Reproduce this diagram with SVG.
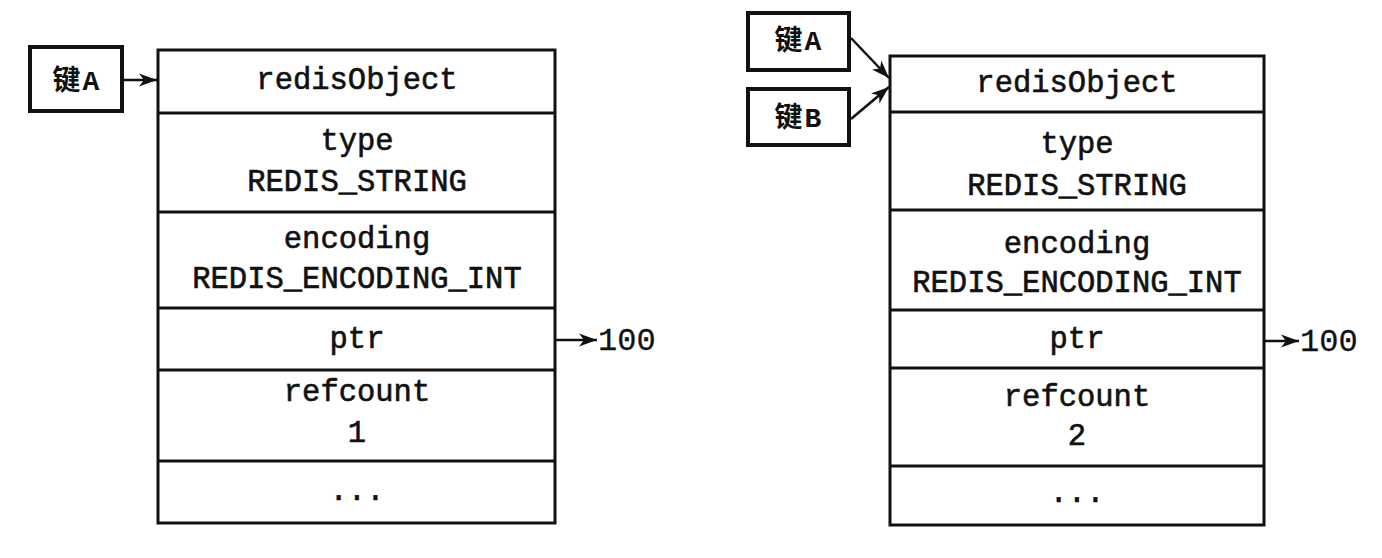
<svg xmlns="http://www.w3.org/2000/svg" width="1382" height="558" viewBox="0 0 1382 558">
<style>
.box{fill:#fff;stroke:#111;stroke-width:3}
.kbox{fill:#fff;stroke:#111;stroke-width:4}
.div{stroke:#111;stroke-width:3}
.t{font-family:"Liberation Mono","Courier New",monospace;font-size:30.5px;fill:#111;stroke:#111;stroke-width:0.6;text-anchor:middle}
.k{font-family:"Liberation Mono","Noto Sans CJK SC",monospace;font-size:28px;font-weight:bold;fill:#111;text-anchor:middle;letter-spacing:2px}
.n{font-family:"Liberation Mono","Courier New",monospace;font-size:32px;fill:#111;stroke:#111;stroke-width:0.3}
.c{stroke:#111;stroke-width:2.5;fill:none}
</style>
<defs>
<marker id="ah" markerUnits="userSpaceOnUse" markerWidth="20" markerHeight="14" refX="18" refY="7" orient="auto">
<path d="M0,0.5 L18,7 L0,13.5 L5,7 Z" fill="#111"/>
</marker>
</defs>
<rect width="1382" height="558" fill="#fff"/>
<g id="keyA-left">
<rect class="kbox" x="30" y="47" width="92" height="64"/>
<text class="k" x="77" y="90">键A</text>
</g>
<g id="obj-left">
<rect class="box" x="158" y="50" width="397" height="473"/>
<line class="div" x1="158" y1="113" x2="555" y2="113"/>
<line class="div" x1="158" y1="212" x2="555" y2="212"/>
<line class="div" x1="158" y1="308" x2="555" y2="308"/>
<line class="div" x1="158" y1="370" x2="555" y2="370"/>
<line class="div" x1="158" y1="461" x2="555" y2="461"/>
<text class="t" x="357" y="89">redisObject</text>
<text class="t" x="357" y="150">type</text>
<text class="t" x="357" y="191">REDIS_STRING</text>
<text class="t" x="357" y="248">encoding</text>
<text class="t" x="357" y="288">REDIS_ENCODING_INT</text>
<text class="t" x="357" y="348">ptr</text>
<text class="t" x="357" y="401">refcount</text>
<text class="t" x="357" y="442">1</text>
<text class="t" x="357" y="500">...</text>
</g>
<g id="val-left">
<text class="n" x="598" y="350">100</text>
</g>
<g id="keyA-right">
<rect class="kbox" x="748" y="13" width="101" height="57"/>
<text class="k" x="799" y="50">键A</text>
</g>
<g id="keyB-right">
<rect class="kbox" x="748" y="89" width="101" height="56"/>
<text class="k" x="799" y="127">键B</text>
</g>
<g id="obj-right">
<rect class="box" x="890" y="56" width="374" height="469"/>
<line class="div" x1="890" y1="112" x2="1264" y2="112"/>
<line class="div" x1="890" y1="210" x2="1264" y2="210"/>
<line class="div" x1="890" y1="310" x2="1264" y2="310"/>
<line class="div" x1="890" y1="368" x2="1264" y2="368"/>
<line class="div" x1="890" y1="466" x2="1264" y2="466"/>
<text class="t" x="1077" y="92">redisObject</text>
<text class="t" x="1077" y="153">type</text>
<text class="t" x="1077" y="195">REDIS_STRING</text>
<text class="t" x="1077" y="253">encoding</text>
<text class="t" x="1077" y="292">REDIS_ENCODING_INT</text>
<text class="t" x="1077" y="348">ptr</text>
<text class="t" x="1077" y="406">refcount</text>
<text class="t" x="1077" y="445">2</text>
<text class="t" x="1077" y="502">...</text>
</g>
<g id="val-right">
<text class="n" x="1300" y="351">100</text>
</g>
<g id="connectors">
<line class="c" x1="124" y1="80" x2="157" y2="80" marker-end="url(#ah)"/>
<line class="c" x1="556" y1="340" x2="597" y2="340" marker-end="url(#ah)"/>
<line class="c" x1="851" y1="38" x2="889" y2="78" marker-end="url(#ah)"/>
<line class="c" x1="851" y1="119" x2="889" y2="87" marker-end="url(#ah)"/>
<line class="c" x1="1265" y1="341" x2="1299" y2="341" marker-end="url(#ah)"/>
</g>
</svg>
